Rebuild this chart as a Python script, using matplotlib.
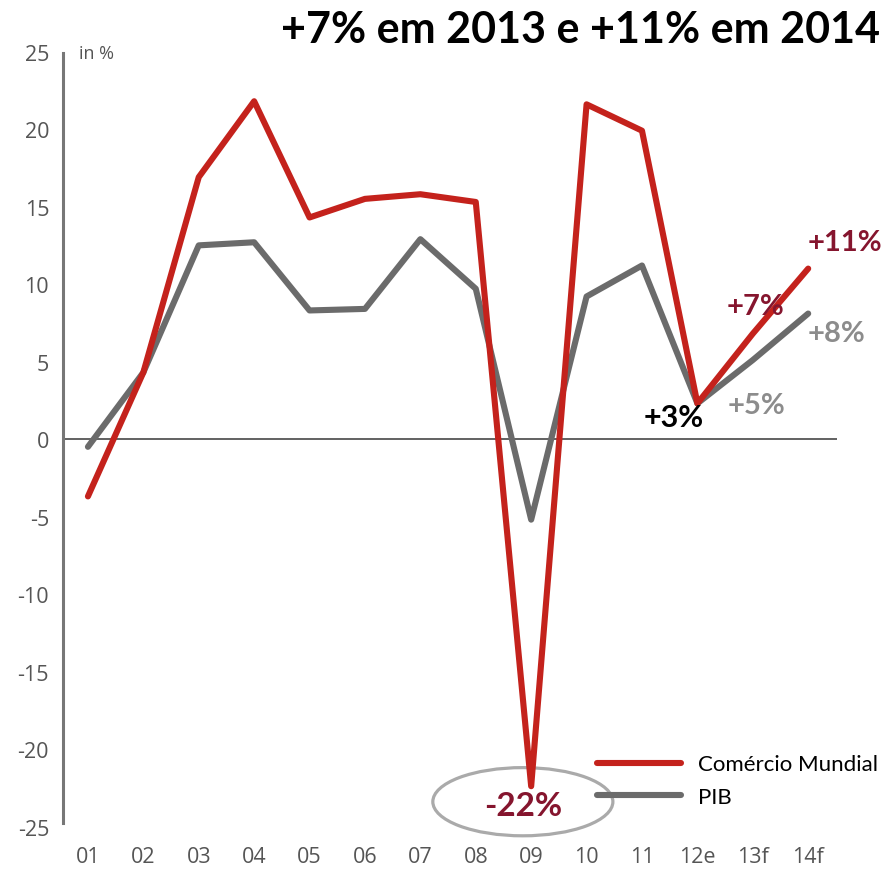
import numpy as np
import matplotlib
matplotlib.use("Agg")
import matplotlib.pyplot as plt
from matplotlib.patches import Ellipse

anos = ["01", "02", "03", "04", "05", "06", "07", "08", "09", "10", "11", "12e", "13f", "14f"]
comercio = [-3.7, 4.3, 16.9, 21.8, 14.3, 15.5, 15.8, 15.3, -22.4, 21.6, 19.9, 2.3, 6.8, 11.0]
pib = [-0.5, 4.3, 12.5, 12.7, 8.3, 8.4, 12.9, 9.7, -5.2, 9.2, 11.2, 2.3, 5.1, 8.1]
yticks = [25, 20, 15, 10, 5, 0, -5, -10, -15, -20, -25]

vermelho = "#c4221c"
cinza = "#6b6b6b"
vinho = "#85152e"
cinza_claro = "#8c8c8c"

fig = plt.figure(figsize=(8.88, 8.7), dpi=100)
ax = fig.add_axes([63/888, 1-830.6/870, (837-63)/888, (830.6-48)/870])
x = np.arange(len(anos))

ax.axhline(0, color="#555555", lw=1.3, zorder=1)
ax.plot(x, comercio, color=vermelho, lw=4.4, solid_capstyle="round", label="Comércio Mundial", zorder=3)
ax.plot(x, pib, color=cinza, lw=4.4, solid_capstyle="round", label="PIB", zorder=2)

ax.set_xlim(-0.45, 13.52)
ax.set_ylim(-25.2, 25.3)
ax.set_xticks(x)
ax.set_xticklabels(anos)
ax.set_yticks(yticks)
ax.set_yticklabels([str(v) for v in yticks])
for s in ["top", "right", "bottom"]:
    ax.spines[s].set_visible(False)
ax.spines["left"].set_color("#777777")
ax.spines["left"].set_linewidth(2.2)
ax.spines["left"].set_bounds(-24.8, 24.9)
ax.tick_params(length=0, labelsize=15.5, labelcolor="#555555")
ax.tick_params(axis="y", pad=10)
ax.tick_params(axis="x", pad=12)
for t in ax.get_xticklabels() + ax.get_yticklabels():
    t.set_fontfamily("Open Sans")

ax.text(-0.17, 24.9, "in %", fontsize=13, color="#555555", family="Open Sans", va="center")

# rotulos
def rotulo(txt, xy, off, cor, size=21):
    ax.annotate(txt, xy=xy, xytext=off, textcoords="offset pixels", ha="center", va="center",
                fontsize=size, fontweight="bold", color=cor, family="Lato", zorder=5)

rotulo("+11%", (13, comercio[13]), (37, 27), vinho)
rotulo("+7%", (12, comercio[12]), (3, 28), vinho)
rotulo("+8%", (13, pib[13]), (28, -19), cinza_claro)
rotulo("+5%", (12, pib[12]), (4, -45), cinza_claro)
rotulo("+3%", (11, comercio[11]), (-24, -14), "black", 22)
rotulo("-22%", (8, comercio[8]), (-8, -19), vinho, 24)

ax.add_patch(Ellipse((7.85, -23.4), 3.25, 4.4, fill=False, ec="#aaaaaa", lw=2.3, clip_on=False, zorder=1))

leg = fig.legend(loc="center left", bbox_to_anchor=(597/888, 1-781.5/870), frameon=False,
                 prop={"family": "Lato", "size": 16}, handlelength=3.8, handletextpad=0.75,
                 labelspacing=0.55, borderpad=0, borderaxespad=0)

fig.text(880/888, 1-30/870, "+7% em 2013 e +11% em 2014", ha="right", va="center",
         fontsize=31, fontweight="bold", family="Lato")

fig.savefig("out.png", dpi=100)
